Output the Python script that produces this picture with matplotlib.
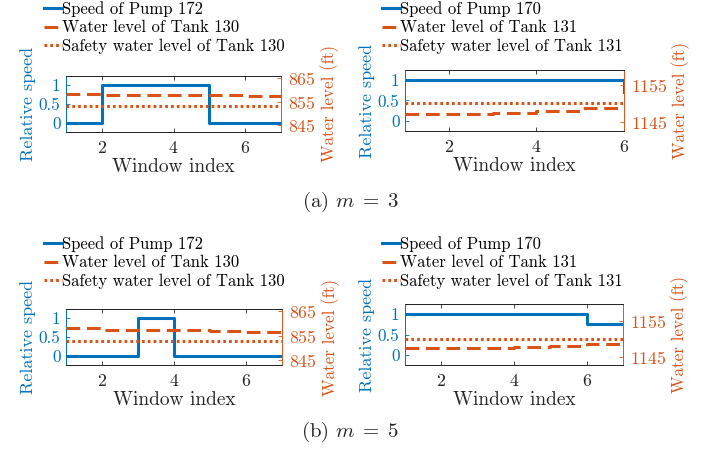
import numpy as np
import matplotlib.pyplot as plt
from matplotlib.lines import Line2D

plt.rcParams['font.family'] = 'cmr10'
plt.rcParams['mathtext.fontset'] = 'cm'
plt.rcParams['axes.formatter.use_mathtext'] = True

BLUE = '#0072BD'
ORANGE = '#D95319'
GRAY = '#262626'

# window indices
win_a = [1, 2, 3, 4, 5, 6, 7]
win_a_short = [1, 2, 3, 4, 5, 6]
win_b = [1, 2, 3, 4, 5, 6, 7]

# (a) m = 3
speed_172_a = [0, 1, 1, 1, 0, 0, 0]
level_130_a = [858.2, 857.8, 857.8, 857.9, 857.9, 857.5, 857.5]
speed_170_a = [1, 1, 1, 1, 1, 0.72]
level_131_a = [1147.2, 1147.2, 1147.4, 1148.1, 1148.7, 1148.8]

# (b) m = 5
speed_172_b = [0, 0, 1, 0, 0, 0, 0]
level_130_b = [858.3, 857.5, 857.5, 857.5, 856.8, 856.4, 856.4]
speed_170_b = [1, 1, 1, 1, 1, 0.75, 0.75]
level_131_b = [1147.4, 1147.4, 1147.5, 1147.8, 1148.0, 1148.5, 1148.6]

safety_130 = 853.0
safety_131 = 1150.0

speed_ticks = [0, 0.5, 1]
speed_ticklabels = ['0', '0.5', '1']
ticks_130 = [845, 855, 865]
ticks_131 = [1145, 1155]

W, H = 714, 450
fig = plt.figure(figsize=(W / 100, H / 100), dpi=100)


def px_rect(left, right, top, bottom):
    return [left / W, 1 - bottom / H, (right - left) / W, (bottom - top) / H]


def panel(rect, x, speed, level, safety, pump, tank, xlim, ylim_r, rticks, leg_xy):
    ax = fig.add_axes(rect)
    ax2 = ax.twinx()

    ax.plot(x, speed, color=BLUE, lw=2.2, drawstyle='steps-post', zorder=3)
    ax2.plot(x, level, color=ORANGE, lw=2.2, drawstyle='steps-post',
             dashes=(4.5, 2.2))
    ax2.plot([x[0], x[-1]], [safety, safety], color=ORANGE, lw=2.2,
             dashes=(0.9, 1.0))

    ax.set_xlim(*xlim)
    ax.set_ylim(-0.25, 1.25)
    ax2.set_ylim(*ylim_r)
    ax.set_xticks([2, 4, 6])
    ax.set_yticks(speed_ticks)
    ax.set_yticklabels(speed_ticklabels)
    ax2.set_yticks(rticks)

    ax.tick_params(axis='x', direction='in', top=True, length=3, width=0.6,
                   color=GRAY, labelsize=12.8, labelcolor=GRAY, pad=6)
    ax.tick_params(axis='y', direction='in', length=3, width=0.6,
                   color=BLUE, labelsize=12.3, labelcolor=BLUE, pad=4)
    ax2.tick_params(axis='y', direction='in', length=3, width=0.6,
                    color=ORANGE, labelsize=12.8, labelcolor=ORANGE, pad=5)

    for a in (ax, ax2):
        a.spines['top'].set_color(GRAY)
        a.spines['bottom'].set_color(GRAY)
        for s in a.spines.values():
            s.set_linewidth(0.7)
    ax.spines['right'].set_visible(False)
    ax2.spines['left'].set_visible(False)
    ax.spines['left'].set_color(BLUE)
    ax2.spines['right'].set_color(ORANGE)

    ax.set_xlabel('Window index', fontsize=14, color=GRAY, labelpad=1)
    ax.set_ylabel('Relative speed', fontsize=13, color=BLUE, labelpad=2)
    ax2.set_ylabel('Water level (ft)', fontsize=12.3, color=ORANGE, labelpad=3)

    handles = [
        Line2D([], [], color=BLUE, lw=2.2),
        Line2D([], [], color=ORANGE, lw=2.2, dashes=(4.5, 2.2)),
        Line2D([], [], color=ORANGE, lw=2.2, dashes=(0.9, 1.0)),
    ]
    labels = ['Speed of Pump %d' % pump,
              'Water level of Tank %d' % tank,
              'Safety water level of Tank %d' % tank]
    fig.legend(handles, labels, loc='upper left',
               bbox_to_anchor=(leg_xy[0] / W, 1 - leg_xy[1] / H),
               frameon=False, fontsize=12, handlelength=1.05,
               handletextpad=0.05, labelspacing=0.2, borderpad=0,
               borderaxespad=0)
    return ax, ax2


panel(px_rect(66, 281, 76, 132), win_a, speed_172_a, level_130_a, safety_130,
      172, 130, (1, 7), (842, 866), ticks_130, (44, 1))
panel(px_rect(405, 624, 70, 131), win_a_short, speed_170_a, level_131_a,
      safety_131, 170, 131, (1, 6), (1142.6, 1159), ticks_131, (382, 1))
panel(px_rect(66, 282, 309, 365), win_b, speed_172_b, level_130_b, safety_130,
      172, 130, (1, 7), (843, 866), ticks_130, (44, 236))
panel(px_rect(405, 623, 304, 365), win_b, speed_170_b, level_131_b,
      safety_131, 170, 131, (1, 7), (1142.8, 1159.7), ticks_131, (382, 236))

fig.text(350 / W, 1 - 202 / H, '(a) $m\\;=\\;3$', ha='center', va='center',
         fontsize=15, color=GRAY)
fig.text(350 / W, 1 - 432 / H, '(b) $m\\;=\\;5$', ha='center', va='center',
         fontsize=15, color=GRAY)

fig.savefig('out.png', dpi=100, facecolor='white')
